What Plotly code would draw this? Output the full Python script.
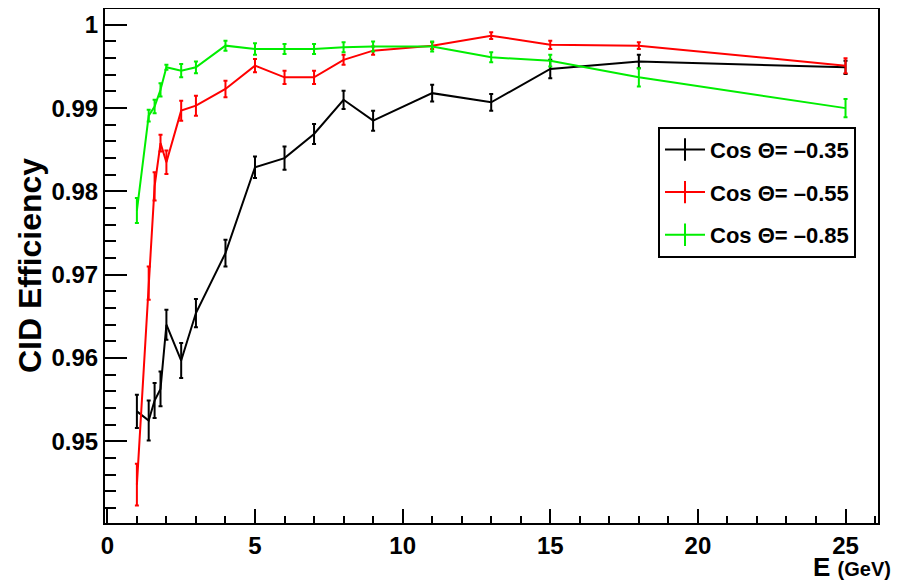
import plotly.graph_objects as go

# ---- data ----
energy = [1, 1.4, 1.6, 1.8, 2, 2.5, 3, 4, 5, 6, 7, 8, 9, 11, 13, 15, 18, 25]

eff_035 = [0.9536, 0.9525, 0.9549, 0.9563, 0.9640, 0.9597, 0.9654, 0.9726, 0.9829,
           0.9840, 0.9869, 0.9910, 0.9885, 0.9918, 0.9907, 0.9947, 0.9956, 0.9949]
err_035 = [0.0020, 0.0024, 0.0021, 0.0021, 0.0018, 0.0021, 0.0017, 0.0016, 0.0013,
           0.0014, 0.0012, 0.0011, 0.0012, 0.0010, 0.0010, 0.0011, 0.0008, 0.0008]

eff_055 = [0.9448, 0.9690, 0.9806, 0.9858, 0.9835, 0.9897, 0.9903, 0.9923, 0.9951,
           0.9937, 0.9937, 0.9958, 0.9969, 0.9975, 0.9987, 0.9976, 0.9975, 0.9951]
err_055 = [0.0025, 0.0020, 0.0017, 0.0010, 0.0014, 0.0012, 0.0012, 0.0010, 0.0008,
           0.0008, 0.0008, 0.0006, 0.0005, 0.0004, 0.0004, 0.0005, 0.0004, 0.0009]

eff_085 = [0.9777, 0.9891, 0.9902, 0.9922, 0.9949, 0.9945, 0.9949, 0.9975, 0.9971,
           0.9971, 0.9971, 0.9973, 0.9974, 0.9974, 0.9961, 0.9957, 0.9937, 0.9900]
err_085 = [0.0015, 0.0007, 0.0008, 0.0008, 0.0003, 0.0008, 0.0007, 0.0006, 0.0007,
           0.0006, 0.0006, 0.0006, 0.0006, 0.0006, 0.0006, 0.0007, 0.0011, 0.0011]

series_names = ["Cos Θ= –0.35", "Cos Θ= –0.55", "Cos Θ= –0.85"]
series_colors = ["#000000", "#ff0000", "#00ee00"]

y_tickvals = [0.95, 0.96, 0.97, 0.98, 0.99, 1.0]
y_ticktext = ["0.95", "0.96", "0.97", "0.98", "0.99", "1"]
x_tickvals = [0, 5, 10, 15, 20, 25]
x_ticktext = ["0", "5", "10", "15", "20", "25"]

FONT = "Liberation Sans, Arial, sans-serif"

fig = go.Figure()
for vals, errs, name, col in zip([eff_035, eff_055, eff_085],
                                 [err_035, err_055, err_085],
                                 series_names, series_colors):
    fig.add_trace(go.Scatter(
        x=energy, y=vals, mode="lines", name=name, showlegend=False,
        line=dict(color=col, width=2),
        error_y=dict(type="data", array=errs, visible=True, color=col,
                     thickness=2, width=2),
    ))
    fig.add_trace(go.Scatter(
        x=[None], y=[None], mode="lines+markers", name=name, showlegend=True,
        line=dict(color=col, width=2),
        marker=dict(symbol="line-ns", size=28, color=col,
                    line=dict(color=col, width=2)),
        legendgroup=name,
    ))

# the page body adds an 8px offset, so the figure is 8px smaller than the window
fig.update_layout(
    template="none",
    width=903, height=577,
    margin=dict(l=97, r=33, t=1, b=62, autoexpand=False),
    paper_bgcolor="white", plot_bgcolor="white",
    font=dict(family=FONT, color="black", size=22),
    showlegend=True,
    legend=dict(
        x=0.7154, y=0.771, xanchor="left", yanchor="top",
        bgcolor="white", bordercolor="black", borderwidth=2,
        font=dict(family=FONT, size=22, color="black", weight="bold"),
        tracegroupgap=11, itemsizing="trace", itemwidth=40,
    ),
    xaxis=dict(
        range=[-0.08, 26.1], showgrid=False, zeroline=False, automargin=False,
        showline=True, linecolor="black", linewidth=2, mirror=True,
        ticks="inside", ticklen=14, tickwidth=1.5, tickcolor="black",
        tickmode="array", tickvals=x_tickvals, ticktext=x_ticktext,
        tickfont=dict(family=FONT, size=24, weight="bold"),
        minor=dict(ticks="inside", ticklen=7, tickwidth=1.5, tickcolor="black",
                   tickmode="linear", tick0=0, dtick=1),
    ),
    yaxis=dict(
        range=[0.9402, 1.0019], showgrid=False, zeroline=False, automargin=False,
        showline=True, linecolor="black", linewidth=2, mirror=True,
        ticks="inside", ticklen=22, tickwidth=1.5, tickcolor="black",
        tickmode="array", tickvals=y_tickvals, ticktext=y_ticktext,
        tickfont=dict(family=FONT, size=24, weight="bold"),
        minor=dict(ticks="inside", ticklen=11, tickwidth=1.5, tickcolor="black",
                   tickmode="linear", tick0=0.94, dtick=0.002),
    ),
    annotations=[
        dict(text="CID Efficiency", textangle=-90, xref="paper", yref="paper",
             x=-0.097, y=0.5, xanchor="center", yanchor="middle", showarrow=False,
             font=dict(family=FONT, size=32, weight="bold")),
        dict(text="E <span style='font-size:20px'>(GeV)</span>", xref="paper", yref="paper",
             x=1.019, y=-0.085, xanchor="right", yanchor="middle", showarrow=False,
             font=dict(family=FONT, size=26, weight="bold")),
    ],
)

fig.write_html("out.html")
